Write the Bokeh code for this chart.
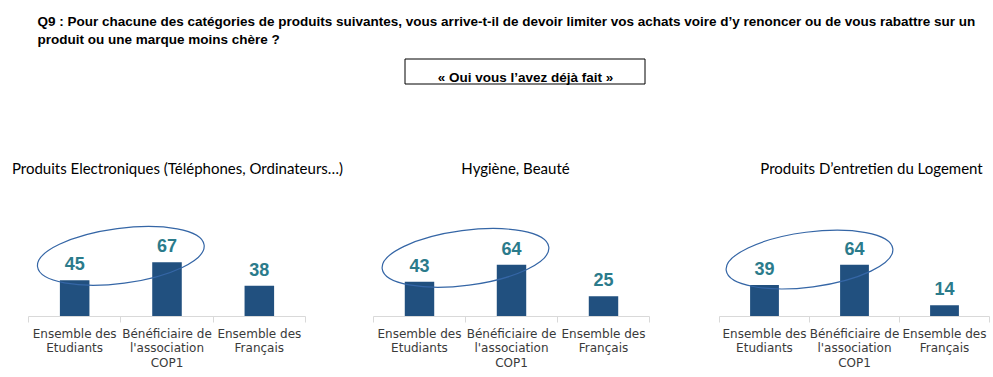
from bokeh.plotting import figure
from bokeh.models import Range1d, LinearAxis, FixedTicker, BoxAnnotation, ColumnDataSource
from bokeh.layouts import column, row
from bokeh.embed import file_html
from bokeh.resources import INLINE
from bokeh.core.properties import value

# ---------------- data ----------------
question_lines = [
    "Q9 : Pour chacune des catégories de produits suivantes, vous arrive-t-il de devoir limiter vos achats voire d’y renoncer ou de vous rabattre sur un",
    "produit ou une marque moins chère ?",
]
subtitle = "« Oui vous l’avez déjà fait »"
categories = ["Ensemble des\nEtudiants", "Bénéficiaire de\nl'association\nCOP1", "Ensemble des\nFrançais"]
panel_titles = [
    "Produits Electroniques (Téléphones, Ordinateurs…)",
    "Hygiène, Beauté",
    "Produits D’entretien du Logement",
]
electroniques = [45, 67, 38]
hygiene_beaute = [43, 64, 25]
entretien_logement = [39, 64, 14]

BAR_COLOR = "#21507f"
LABEL_COLOR = "#2b7b8b"
ELLIPSE_COLOR = "#3566a6"

# ---------------- header (question, subtitle box, panel titles) ----------------
HW, HH = 993, 180
header = figure(width=HW, height=HH, x_range=Range1d(0, HW), y_range=Range1d(HH, 0),
                output_backend="svg", toolbar_location=None,
                x_axis_location=None, y_axis_location=None, min_border=0)
header.outline_line_color = None
header.grid.visible = False
header.text(x=[37, 37], y=[21, 39], text=question_lines,
            text_font=value("Liberation Sans"), text_font_style="bold",
            text_font_size="13.5px", text_color="#000000", text_baseline="alphabetic")
header.add_layout(BoxAnnotation(left=404.5, right=644.5, top=58.5, bottom=83.5,
                                fill_color=None, fill_alpha=0, line_color="#000000",
                                line_alpha=1, line_width=1))
header.text(x=[525], y=[76.5], text=[subtitle], text_font=value("Liberation Sans"),
            text_font_style="bold", text_font_size="13.5px", text_color="#000000",
            text_align="center", text_baseline="alphabetic")
header.text(x=[177, 515, 871], y=[167.5, 167.5, 167.5], text=panel_titles,
            text_font=value("Lato"), text_font_size="15px", text_color="#000000",
            text_align="center", text_baseline="alphabetic")


def make_panel(values, width, left, right):
    xs = [i + 0.5 for i in range(len(categories))]
    p = figure(width=width, height=197, x_range=Range1d(0, len(categories)), y_range=Range1d(0, 125),
               output_backend="svg", toolbar_location=None,
               x_axis_location=None, y_axis_location=None,
               min_border_left=left, min_border_right=right, min_border_top=35, min_border_bottom=61)
    p.outline_line_color = None
    p.grid.visible = False
    src = ColumnDataSource(dict(x=xs, top=values, lab=[str(v) for v in values]))
    p.vbar(x="x", top="top", width=0.32, bottom=0, source=src, fill_color=BAR_COLOR, line_color=None)
    p.text(x="x", y="top", text="lab", source=src, y_offset=-10,
           text_font=value("Liberation Sans"), text_font_style="bold", text_font_size="18px",
           text_color=LABEL_COLOR, text_align="center", text_baseline="bottom")
    ex = (xs[0] + xs[1]) / 2
    ey = (values[0] + values[1]) / 2 + 19
    p.ellipse(x=[ex], y=[ey], width=168, height=55, width_units="screen", height_units="screen",
              angle=0.13, fill_color=None, line_color=ELLIPSE_COLOR, line_width=1.2)
    ax = LinearAxis(ticker=FixedTicker(ticks=xs, minor_ticks=list(range(len(categories) + 1))),
                    major_label_overrides={x: c for x, c in zip(xs, categories)})
    ax.axis_line_color = "#d9d9d9"
    ax.major_tick_line_color = None
    ax.major_tick_out = 0
    ax.major_tick_in = 0
    ax.minor_tick_line_color = "#d9d9d9"
    ax.minor_tick_out = 6
    ax.minor_tick_in = 0
    ax.major_label_standoff = 4
    ax.major_label_text_font = "DejaVu Sans"
    ax.major_label_text_font_size = "12px"
    ax.major_label_text_color = "#3a3a3a"
    ax.major_label_text_line_height = 1.05
    p.add_layout(ax, "below")
    return p


p1 = make_panel(electroniques, 340, 28, 35)
p2 = make_panel(hygiene_beaute, 340, 33, 31)
p3 = make_panel(entretien_logement, 313, 39, 4)

layout = column(header, row(p1, p2, p3, spacing=0), spacing=0)
open("out.html", "w").write(file_html(layout, INLINE))
